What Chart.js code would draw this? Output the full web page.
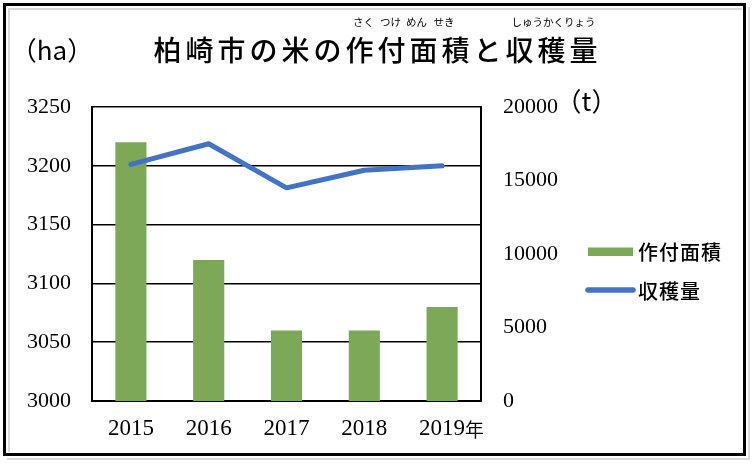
<!DOCTYPE html>
<html>
<head>
<meta charset="utf-8">
<script src="https://cdn.jsdelivr.net/npm/chart.js@4.4.1/dist/chart.umd.min.js"></script>
<style>
  html, body { margin: 0; padding: 0; background: #fff; }
  #wrap { width: 754px; height: 464px; position: relative; }
</style>
</head>
<body>
<div id="wrap"><canvas id="c" width="754" height="464"></canvas></div>
<script>
// ---- data ----
const years = ['2015', '2016', '2017', '2018', '2019'];
const yearUnit = '年';
const areaLabel = '作付面積';
const harvestLabel = '収穫量';
const areaHa = [3220, 3120, 3060, 3060, 3080];
const harvestT = [16100, 17500, 14500, 15700, 16000];
const leftTicks = [3000, 3050, 3100, 3150, 3200, 3250];
const rightTicks = [0, 5000, 10000, 15000, 20000];
const titleText = '柏崎市の米の作付面積と収穫量';
const furigana = [['さく', 363.5], ['つけ', 390.5], ['めん', 416.5], ['せき', 444], ['しゅうかくりょう', 553.5]];
const leftUnit = '（ha）';
const rightUnit = '（t）';

const GREEN = '#7DA858';
const BLUE = '#4472C4';
const CJK = '"Noto Sans CJK JP", "Noto Sans", sans-serif';
const SERIF = '"Liberation Serif", "DejaVu Serif", serif';

const deco = {
  id: 'deco',
  beforeDraw(chart) {
    const ctx = chart.ctx;
    ctx.save();
    ctx.fillStyle = '#fff';
    ctx.fillRect(0, 0, chart.width, chart.height);
    ctx.restore();
  },
  afterDraw(chart) {
    const ctx = chart.ctx;
    ctx.save();
    // frame
    ctx.strokeStyle = '#d9d9d9';
    ctx.lineWidth = 2;
    ctx.beginPath();
    ctx.moveTo(9, 452); ctx.lineTo(9, 9); ctx.lineTo(742, 9);
    ctx.stroke();
    ctx.beginPath();
    ctx.moveTo(749, 7); ctx.lineTo(749, 459); ctx.lineTo(7, 459);
    ctx.stroke();
    ctx.strokeStyle = '#000';
    ctx.lineWidth = 3;
    ctx.strokeRect(4.5, 4.5, 740, 450);

    // title
    ctx.fillStyle = '#000';
    ctx.textBaseline = 'middle';
    ctx.textAlign = 'left';
    ctx.font = '500 28px ' + CJK;
    ctx.letterSpacing = '4px';
    ctx.fillText(titleText, 153.5, 50);
    ctx.letterSpacing = '0px';
    // furigana
    ctx.font = '10.5px ' + CJK;
    ctx.textAlign = 'center';
    furigana.forEach(([t, x]) => ctx.fillText(t, x, 22));
    // units
    ctx.font = '26px ' + CJK;
    ctx.fillText(leftUnit, 52, 50);
    ctx.fillText(rightUnit, 586.5, 101);

    // year unit after the last x label
    const xs = chart.scales.x;
    const lastX = xs.getPixelForTick(years.length - 1);
    ctx.font = '23px ' + SERIF;
    const w = ctx.measureText(years[years.length - 1]).width;
    ctx.font = '19px ' + CJK;
    ctx.textAlign = 'left';
    ctx.fillText(yearUnit, lastX + w / 2, 430);

    // legend
    const ds = chart.data.datasets;
    const bar = ds.find(d => d.type === 'bar');
    const line = ds.find(d => d.type === 'line');
    ctx.fillStyle = bar.backgroundColor;
    ctx.fillRect(588, 247.5, 45, 8.5);
    ctx.strokeStyle = line.borderColor;
    ctx.lineWidth = 5.5;
    ctx.lineCap = 'round';
    ctx.beginPath();
    ctx.moveTo(588, 290); ctx.lineTo(633, 290);
    ctx.stroke();
    ctx.fillStyle = '#000';
    ctx.font = '500 20px ' + CJK;
    ctx.letterSpacing = '1px';
    ctx.textAlign = 'left';
    ctx.fillText(bar.label, 638, 252);
    ctx.fillText(line.label, 638, 291);
    ctx.restore();
  }
};

new Chart(document.getElementById('c'), {
  data: {
    labels: years,
    datasets: [
      {
        type: 'line',
        label: harvestLabel,
        data: harvestT,
        yAxisID: 'y1',
        borderColor: BLUE,
        backgroundColor: BLUE,
        borderWidth: 5,
        borderCapStyle: 'round',
        borderJoinStyle: 'round',
        pointRadius: 0,
        tension: 0,
        order: 0
      },
      {
        type: 'bar',
        label: areaLabel,
        data: areaHa,
        yAxisID: 'y',
        backgroundColor: GREEN,
        barPercentage: 0.4,
        categoryPercentage: 1,
        order: 1
      }
    ]
  },
  options: {
    responsive: false,
    animation: false,
    devicePixelRatio: 1,
    layout: { padding: { left: 0, right: 0, top: 107, bottom: 0 } },
    plugins: {
      legend: { display: false },
      tooltip: { enabled: false },
      title: { display: false }
    },
    scales: {
      x: {
        offset: true,
        grid: { display: false, drawTicks: false },
        border: { display: true, color: '#000', width: 2 },
        ticks: { color: '#000', font: { family: SERIF, size: 23 }, padding: 14, maxRotation: 0 },
        afterFit: s => { s.height = 63; }
      },
      y: {
        position: 'left',
        min: leftTicks[0],
        max: leftTicks[leftTicks.length - 1],
        afterBuildTicks: s => { s.ticks = leftTicks.map(v => ({ value: v })); },
        grid: { color: '#000', lineWidth: 1.5, drawTicks: false },
        border: { display: true, color: '#000', width: 2 },
        ticks: { color: '#000', font: { family: SERIF, size: 22 }, padding: 21, callback: v => String(v) },
        afterFit: s => { s.width = 92; }
      },
      y1: {
        position: 'right',
        min: rightTicks[0],
        max: rightTicks[rightTicks.length - 1],
        afterBuildTicks: s => { s.ticks = rightTicks.map(v => ({ value: v })); },
        grid: { drawOnChartArea: false, drawTicks: false },
        border: { display: true, color: '#000', width: 2 },
        ticks: { color: '#000', font: { family: SERIF, size: 22 }, padding: 22, callback: v => String(v) },
        afterFit: s => { s.width = 273; }
      }
    }
  },
  plugins: [deco]
});
</script>
</body>
</html>
